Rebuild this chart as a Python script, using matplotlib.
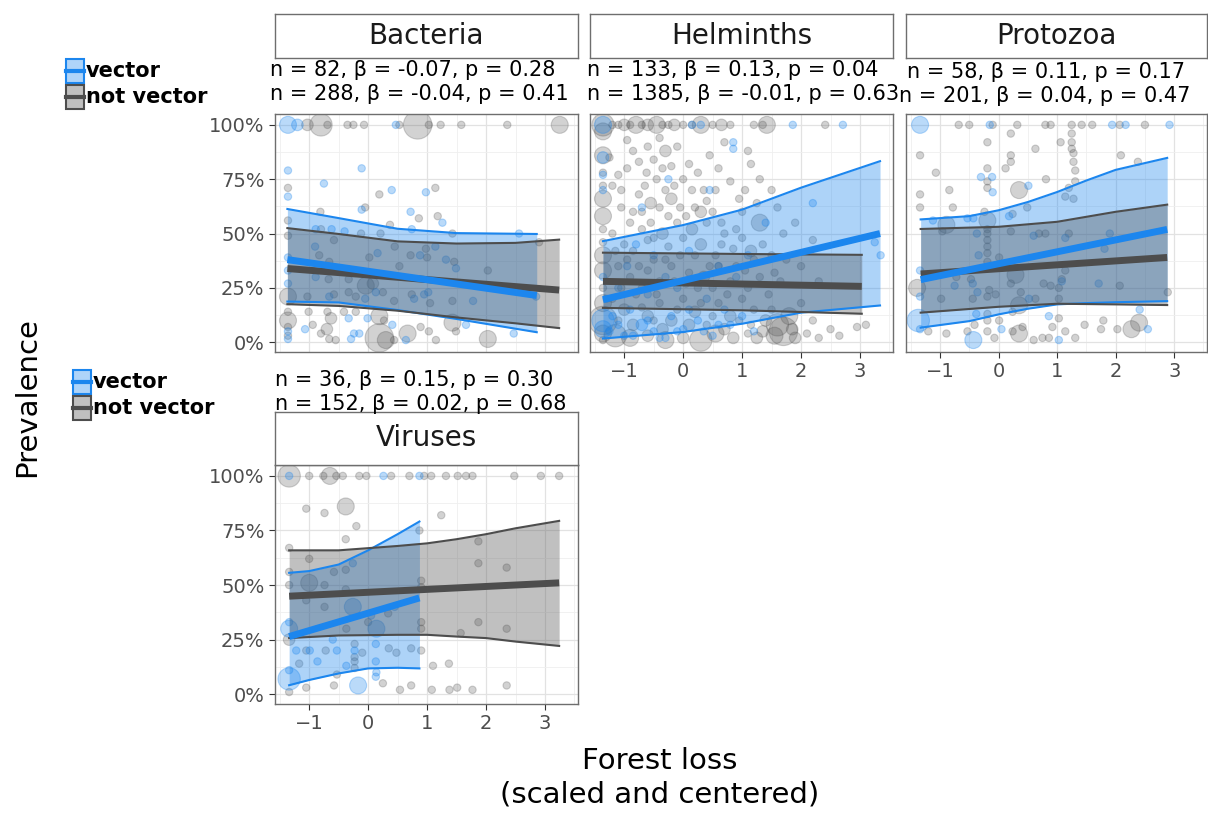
import matplotlib
matplotlib.use("Agg")
import matplotlib.pyplot as plt
from matplotlib.patches import Rectangle
from matplotlib.lines import Line2D

plt.rcParams["font.family"] = ["DejaVu Sans"]

# ---- Data ----
PANELS = ["Bacteria", "Helminths", "Protozoa", "Viruses"]
Y_TICKS = [0, 0.25, 0.5, 0.75, 1.0]
Y_TICK_LABELS = ["0%", "25%", "50%", "75%", "100%"]
X_TICKS = [-1, 0, 1, 2, 3]
X_TICK_LABELS = ["\u22121", "0", "1", "2", "3"]

STATS_VEC = ["n = 82, \u03b2 = -0.07, p = 0.28", "n = 133, \u03b2 = 0.13, p = 0.04",
             "n = 58, \u03b2 = 0.11, p = 0.17", "n = 36, \u03b2 = 0.15, p = 0.30"]
STATS_NOT = ["n = 288, \u03b2 = -0.04, p = 0.41", "n = 1385, \u03b2 = -0.01, p = 0.63",
             "n = 201, \u03b2 = 0.04, p = 0.47", "n = 152, \u03b2 = 0.02, p = 0.68"]

# points: (forest loss, prevalence, weight class)
BACT_VEC = [(-1.36, 1.0, 3), (-1.20, 1.0, 2), (0.47, 1.0, 1), (-1.36, 0.79, 1), (-0.11, 0.80, 1),
            (-0.75, 0.73, 1), (-1.36, 0.67, 1), (0.40, 0.70, 1), (0.98, 0.69, 1), (-0.11, 0.61, 1),
            (0.72, 0.60, 1), (1.26, 0.55, 1), (-0.89, 0.52, 1), (-0.62, 0.52, 1), (-0.40, 0.51, 1),
            (0.74, 0.52, 1), (1.14, 0.44, 1), (2.56, 0.50, 1), (-0.90, 0.44, 1), (0.16, 0.41, 1),
            (0.88, 0.40, 1), (1.32, 0.38, 1), (1.49, 0.34, 1), (-0.89, 0.30, 1), (0.13, 0.23, 1),
            (-0.66, 0.21, 1), (-0.05, 0.20, 1), (0.78, 0.20, 1), (0.95, 0.22, 1), (1.02, 0.23, 1),
            (1.78, 0.19, 1), (2.85, 0.21, 1), (-1.36, 0.27, 1), (-1.36, 0.33, 1), (-1.36, 0.39, 1),
            (-1.36, 0.05, 1), (-1.36, 0.015, 1), (-0.33, 0.11, 1), (-0.01, 0.11, 1), (0.41, 0.08, 1),
            (1.66, 0.08, 1), (2.47, 0.04, 1), (-1.07, 0.06, 1), (-0.29, 0.015, 1), (-0.15, 0.04, 1),
            (0.64, 0.01, 1), (-0.24, 0.04, 1)]
BACT_NOT = [(-1.03, 1.0, 2), (-0.80, 1.0, 4), (-0.69, 1.0, 1), (-0.35, 1.0, 1), (-0.25, 1.0, 1),
            (-0.07, 1.0, 1), (0.53, 1.0, 1), (0.84, 1.0, 5), (1.03, 1.0, 1), (1.23, 1.0, 1),
            (1.58, 1.0, 1), (2.36, 1.0, 1), (3.25, 1.0, 3), (-1.36, 0.71, 1), (0.19, 0.68, 1),
            (1.14, 0.71, 1), (-0.81, 0.60, 1), (-0.05, 0.62, 1), (0.86, 0.57, 1), (1.18, 0.58, 1),
            (0.37, 0.54, 1), (-1.36, 0.56, 1), (-1.36, 0.49, 1), (-0.80, 0.52, 1), (-0.58, 0.47, 1),
            (-0.12, 0.50, 1), (0.21, 0.50, 1), (1.43, 0.50, 1), (2.90, 0.46, 1), (0.45, 0.44, 1),
            (0.98, 0.43, 1), (-0.83, 0.40, 1), (-0.66, 0.37, 1), (0.02, 0.39, 1), (0.72, 0.40, 1),
            (1.00, 0.39, 1), (0.53, 0.35, 1), (1.46, 0.37, 1), (2.03, 0.33, 1), (-0.67, 0.29, 1),
            (-0.33, 0.29, 1), (-0.04, 0.26, 3), (0.08, 0.27, 2), (-1.36, 0.21, 3), (-1.03, 0.21, 1),
            (-0.58, 0.22, 1), (-0.33, 0.23, 1), (-0.21, 0.21, 1), (0.25, 0.23, 1), (0.44, 0.19, 1),
            (0.74, 0.22, 1), (1.05, 0.18, 1), (1.43, 0.19, 1), (-1.36, 0.14, 1), (-1.36, 0.10, 3),
            (-1.01, 0.14, 1), (-0.69, 0.14, 1), (-0.63, 0.11, 2), (-0.41, 0.14, 1), (-0.21, 0.14, 1),
            (0.19, 0.12, 3), (0.27, 0.10, 1), (0.89, 0.07, 1), (1.43, 0.09, 3), (1.49, 0.05, 1),
            (2.03, 0.015, 3), (-0.94, 0.08, 1), (-0.80, 0.04, 1), (-0.66, 0.015, 1), (-0.55, 0.01, 1),
            (0.19, 0.02, 5), (0.44, 0.01, 1), (0.67, 0.04, 3), (1.15, 0.01, 1), (1.03, 0.05, 1),
            (-1.36, 0.03, 1), (-1.36, 0.07, 1), (-0.70, 0.06, 2), (0.30, 0.01, 3)]

HELM_VEC = [(-1.36, 1.0, 3), (0.15, 1.0, 1), (0.30, 1.0, 1), (1.86, 1.0, 1), (2.71, 1.0, 1),
            (-1.36, 0.85, 2), (-1.36, 0.77, 1), (-1.36, 0.70, 1), (-1.36, 0.30, 1), (-1.36, 0.10, 4),
            (-1.36, 0.06, 3), (0.85, 0.92, 1), (0.85, 0.89, 1), (-0.25, 0.75, 1), (2.20, 0.64, 1),
            (3.25, 0.46, 1), (3.35, 0.40, 1), (-0.80, 0.45, 1), (-0.50, 0.40, 1), (0.10, 0.42, 1),
            (0.60, 0.35, 1), (-1.10, 0.25, 1), (-0.90, 0.15, 1), (-0.70, 0.08, 2), (-0.50, 0.05, 1),
            (-0.20, 0.12, 1), (0.00, 0.06, 1), (0.25, 0.10, 1), (0.50, 0.03, 1), (0.80, 0.08, 1),
            (1.00, 0.12, 1), (-1.20, 0.12, 1), (0.40, 0.20, 1), (-0.10, 0.25, 1), (1.40, 0.55, 1),
            (-1.00, 0.03, 1), (-0.30, 0.02, 1), (0.70, 0.15, 1), (1.20, 0.05, 1), (-0.60, 0.22, 1),
            (-1.25, 0.05, 1), (-1.10, 0.08, 1), (-0.85, 0.03, 1), (-0.60, 0.10, 1), (-0.40, 0.02, 1),
            (-0.10, 0.05, 1), (0.10, 0.15, 1), (0.35, 0.05, 1), (0.60, 0.08, 1), (-1.30, 0.20, 1),
            (-0.95, 0.35, 1), (-0.30, 0.30, 1), (0.20, 0.28, 1), (0.90, 0.30, 1), (-0.70, 0.62, 1),
            (0.45, 0.70, 1), (1.10, 0.40, 1)]
HELM_NOT = [(-1.36, 1.0, 4), (-1.20, 1.0, 1), (-1.10, 1.0, 1), (-1.00, 1.0, 2), (-0.90, 1.0, 1),
            (-0.80, 1.0, 3), (-0.70, 1.0, 1), (-0.60, 1.0, 2), (-0.45, 1.0, 3), (-0.35, 1.0, 1),
            (-0.25, 1.0, 1), (-0.15, 1.0, 2), (0.00, 1.0, 1), (0.15, 1.0, 1), (0.30, 1.0, 3),
            (0.50, 1.0, 1), (0.65, 1.0, 2), (0.80, 1.0, 1), (1.20, 1.0, 1), (1.35, 1.0, 1),
            (1.42, 1.0, 3), (2.41, 1.0, 1),
            (-1.36, 0.97, 3), (-1.36, 0.86, 3), (-1.36, 0.78, 1), (-1.36, 0.72, 1), (-1.36, 0.66, 3),
            (-1.36, 0.58, 3), (-1.36, 0.52, 1), (-1.36, 0.46, 1), (-1.36, 0.40, 3), (-1.36, 0.33, 3),
            (-1.36, 0.25, 1), (-1.36, 0.18, 3), (-1.36, 0.10, 5), (-1.36, 0.04, 3), (-1.36, 0.01, 1),
            (-1.10, 0.77, 1), (-1.20, 0.72, 1), (-0.95, 0.93, 1), (-0.85, 0.88, 1), (-0.75, 0.83, 1),
            (-0.60, 0.90, 1), (-0.50, 0.84, 1), (-0.40, 0.94, 1), (-0.30, 0.88, 2), (-0.20, 0.81, 1),
            (-0.10, 0.90, 1), (-0.75, 0.68, 1), (-0.65, 0.72, 1), (-0.55, 0.64, 2), (-0.45, 0.75, 1),
            (-0.30, 0.70, 1), (-0.20, 0.66, 2), (0.00, 0.75, 1), (0.10, 0.82, 1), (0.25, 0.78, 1),
            (0.35, 0.70, 1), (0.45, 0.86, 1), (0.60, 0.80, 1), (0.70, 0.92, 1), (0.80, 0.74, 1),
            (0.95, 0.66, 1), (1.10, 0.88, 1), (1.15, 0.82, 1), (1.30, 0.75, 1), (-1.05, 0.62, 1),
            (-0.90, 0.55, 1), (0.20, 0.62, 1), (0.50, 0.60, 1), (1.00, 0.60, 1), (1.25, 0.64, 1),
            (1.50, 0.70, 1), (1.60, 0.62, 1), (1.30, 0.55, 3), (1.90, 0.55, 1), (2.20, 0.47, 1),
            (1.70, 0.50, 1),
            (-1.20, 0.50, 1), (-1.00, 0.45, 1), (-0.85, 0.42, 1), (-0.70, 0.52, 1), (-0.60, 0.47, 1),
            (-0.50, 0.38, 1), (-0.35, 0.50, 2), (-0.25, 0.44, 1), (-0.10, 0.55, 1), (0.00, 0.48, 1),
            (0.15, 0.52, 2), (0.30, 0.45, 2), (0.40, 0.55, 1), (0.55, 0.40, 1), (0.70, 0.50, 1),
            (0.85, 0.43, 1), (1.00, 0.48, 1), (1.15, 0.42, 2), (1.35, 0.45, 1), (1.50, 0.40, 1),
            (1.75, 0.38, 1), (-1.10, 0.35, 1), (-0.90, 0.30, 1), (-0.60, 0.33, 1), (-0.40, 0.28, 1),
            (-0.20, 0.35, 1), (0.10, 0.32, 1), (0.35, 0.30, 2), (0.60, 0.35, 1), (0.80, 0.28, 1),
            (1.05, 0.33, 1), (1.30, 0.30, 1), (1.55, 0.32, 1), (2.00, 0.35, 1), (2.30, 0.28, 1),
            (-1.20, 0.20, 1), (-1.00, 0.15, 2), (-0.80, 0.22, 1), (-0.60, 0.12, 2), (-0.40, 0.18, 1),
            (-0.20, 0.10, 2), (0.00, 0.20, 1), (0.20, 0.14, 2), (0.40, 0.08, 1), (0.60, 0.18, 1),
            (0.80, 0.12, 2), (1.00, 0.20, 1), (1.20, 0.15, 1), (1.40, 0.10, 2), (1.60, 0.08, 4),
            (1.70, 0.05, 5), (1.80, 0.12, 3), (1.55, 0.03, 3), (1.90, 0.02, 2), (2.10, 0.04, 1),
            (2.50, 0.06, 1), (2.95, 0.07, 1), (3.10, 0.08, 1), (-1.15, 0.03, 4), (-0.90, 0.02, 3),
            (-0.60, 0.03, 2), (-0.30, 0.01, 3), (0.00, 0.02, 2), (0.30, 0.01, 4), (0.55, 0.04, 3),
            (0.85, 0.02, 2), (1.10, 0.04, 1), (1.25, 0.02, 2), (2.00, 0.18, 1), (2.20, 0.10, 1),
            (-1.25, 0.85, 1), (-1.05, 0.70, 1), (-0.95, 0.80, 1), (-0.85, 0.60, 1), (-0.70, 0.60, 1),
            (-0.62, 0.78, 1), (-0.55, 0.55, 1), (-0.40, 0.62, 1), (-0.35, 0.80, 1), (-0.25, 0.58, 1),
            (-0.15, 0.72, 1), (-0.05, 0.62, 1), (0.05, 0.58, 1), (0.15, 0.70, 1), (0.30, 0.60, 2),
            (0.40, 0.65, 1), (0.55, 0.70, 1), (0.65, 0.55, 1), (0.90, 0.52, 1), (1.05, 0.70, 1),
            (-1.15, 0.42, 1), (-1.05, 0.25, 1), (-0.95, 0.38, 1), (-0.75, 0.35, 1), (-0.70, 0.25, 1),
            (-0.50, 0.48, 1), (-0.45, 0.22, 1), (-0.30, 0.38, 1), (-0.15, 0.28, 1), (-0.05, 0.40, 1),
            (0.05, 0.27, 1), (0.20, 0.40, 1), (0.25, 0.25, 1), (0.45, 0.35, 1), (0.50, 0.25, 1),
            (0.65, 0.45, 1), (0.75, 0.22, 1), (0.90, 0.35, 1), (1.10, 0.25, 1), (1.20, 0.38, 1),
            (1.45, 0.22, 1), (1.65, 0.28, 1), (-1.10, 0.10, 1), (-0.85, 0.08, 2), (-0.70, 0.16, 1),
            (-0.50, 0.10, 1), (-0.35, 0.06, 2), (-0.10, 0.15, 1), (0.10, 0.08, 2), (0.30, 0.18, 1),
            (0.50, 0.12, 1), (0.70, 0.06, 2), (0.95, 0.10, 1), (1.15, 0.08, 1), (1.35, 0.05, 2),
            (1.50, 0.15, 1), (1.85, 0.06, 2), (2.30, 0.02, 1), (2.65, 0.03, 1)]

PROT_VEC = [(-1.34, 1.0, 3), (-0.15, 1.0, 1), (1.94, 1.0, 1), (2.17, 1.0, 1), (2.92, 1.0, 1),
            (-0.30, 0.76, 1), (-0.11, 0.76, 1), (-0.10, 0.69, 1), (0.51, 0.72, 1), (0.18, 0.58, 1),
            (-1.12, 0.56, 1), (-0.53, 0.57, 1), (-0.43, 0.57, 1), (-0.37, 0.50, 1), (0.60, 0.49, 1),
            (1.14, 0.48, 1), (1.90, 0.50, 1), (1.81, 0.43, 1), (-0.34, 0.40, 1), (-1.34, 0.33, 1),
            (-0.75, 0.26, 1), (-0.44, 0.27, 1), (-0.36, 0.23, 1), (1.08, 0.28, 1), (1.71, 0.27, 1),
            (-1.34, 0.21, 1), (0.52, 0.20, 1), (-0.38, 0.13, 1), (0.86, 0.12, 1), (-1.37, 0.10, 4),
            (-1.34, 0.06, 1), (-0.43, 0.01, 3), (1.03, 0.01, 1), (2.55, 0.06, 1), (2.41, 0.15, 1),
            (0.05, 0.06, 1)]
PROT_NOT = [(-0.68, 1.0, 1), (-0.50, 1.0, 1), (-0.10, 1.0, 1), (0.32, 1.0, 1), (0.80, 1.0, 1),
            (0.89, 1.0, 1), (1.25, 1.0, 1), (1.42, 1.0, 1), (1.60, 1.0, 1), (2.07, 1.0, 1),
            (2.50, 1.0, 1), (0.21, 0.96, 1), (1.25, 0.96, 1), (1.25, 0.92, 1), (1.25, 0.89, 1),
            (1.28, 0.87, 1), (-1.34, 0.86, 1), (-0.19, 0.92, 1), (0.63, 0.89, 1), (1.06, 0.92, 1),
            (0.21, 0.86, 1), (0.21, 0.83, 1), (2.09, 0.86, 1), (2.38, 0.83, 1), (1.28, 0.83, 1),
            (-1.07, 0.78, 1), (-0.19, 0.80, 1), (0.12, 0.80, 1), (1.31, 0.79, 1), (-0.19, 0.74, 1),
            (-0.19, 0.71, 1), (-0.84, 0.70, 1), (0.81, 0.75, 1), (1.31, 0.74, 1), (1.20, 0.71, 1),
            (0.35, 0.70, 3), (1.14, 0.67, 1), (1.28, 0.66, 1), (-1.34, 0.68, 1), (-1.34, 0.62, 1),
            (-0.78, 0.62, 1), (0.49, 0.62, 1), (0.24, 0.59, 1), (-0.89, 0.54, 3), (-0.24, 0.60, 1),
            (-0.19, 0.56, 3), (-0.19, 0.52, 1), (-0.19, 0.50, 1), (-0.19, 0.47, 1), (-0.19, 0.44, 1),
            (-0.19, 0.41, 1), (0.21, 0.51, 1), (0.69, 0.50, 1), (0.80, 0.50, 1), (1.20, 0.50, 1),
            (-0.96, 0.51, 1), (0.01, 0.39, 1), (-0.19, 0.37, 1), (0.29, 0.31, 3), (1.14, 0.33, 1),
            (1.08, 0.29, 1), (-1.39, 0.25, 3), (-0.72, 0.30, 1), (-0.47, 0.29, 1), (-0.16, 0.24, 1),
            (0.21, 0.27, 1), (0.38, 0.23, 1), (0.77, 0.27, 1), (0.89, 0.26, 1), (1.03, 0.25, 1),
            (2.07, 0.26, 1), (2.89, 0.23, 1), (-0.98, 0.20, 1), (-0.44, 0.20, 1), (-0.19, 0.21, 1),
            (-0.05, 0.22, 1), (0.63, 0.20, 1), (1.03, 0.20, 1), (0.35, 0.17, 3), (0.24, 0.14, 1),
            (-0.19, 0.13, 1), (0.01, 0.10, 1), (-0.19, 0.10, 1), (-0.41, 0.08, 1), (1.03, 0.11, 1),
            (-1.20, 0.05, 1), (-0.89, 0.04, 1), (-0.53, 0.05, 1), (-0.19, 0.05, 1), (-0.07, 0.02, 1),
            (0.24, 0.05, 1), (0.35, 0.04, 3), (0.41, 0.07, 1), (0.60, 0.01, 1), (0.75, 0.02, 1),
            (0.86, 0.02, 1), (0.92, 0.07, 1), (1.14, 0.05, 1), (1.31, 0.02, 1), (1.47, 0.08, 1),
            (1.79, 0.10, 1), (1.75, 0.06, 1), (2.03, 0.06, 1), (2.27, 0.06, 3), (2.40, 0.09, 3)]

VIR_VEC = [(-1.34, 1.0, 1), (0.26, 1.0, 1), (0.87, 1.0, 1), (-0.26, 0.60, 1), (-0.26, 0.40, 3),
           (0.14, 0.30, 3), (-1.34, 0.30, 3), (-1.34, 0.33, 1), (-1.22, 0.20, 1), (-0.99, 0.20, 1),
           (-0.86, 0.15, 1), (-0.53, 0.20, 1), (-0.23, 0.20, 1), (0.13, 0.23, 1), (0.13, 0.15, 1),
           (-0.37, 0.13, 1), (0.14, 0.10, 1), (0.13, 0.08, 1), (-1.34, 0.07, 4), (-1.34, 0.11, 1),
           (-0.17, 0.04, 3), (0.45, 0.40, 1), (-0.60, 0.25, 1), (0.05, 0.36, 1)]
VIR_NOT = [(-1.34, 1.0, 4), (-1.00, 1.0, 1), (-0.76, 1.0, 1), (-0.65, 1.0, 3), (-0.54, 1.0, 1),
           (-0.43, 1.0, 1), (-0.15, 1.0, 1), (-0.03, 1.0, 1), (0.39, 1.0, 1), (0.70, 1.0, 1),
           (0.95, 1.0, 1), (1.07, 1.0, 1), (1.32, 1.0, 1), (1.52, 1.0, 1), (1.66, 1.0, 1),
           (1.77, 1.0, 1), (2.48, 1.0, 1), (2.93, 1.0, 1), (3.24, 1.0, 1), (-1.05, 0.85, 1),
           (-0.74, 0.83, 1), (-0.38, 0.86, 3), (-0.20, 0.77, 1), (-0.38, 0.71, 1), (1.24, 0.82, 1),
           (0.87, 0.75, 1), (1.87, 0.70, 1), (1.87, 0.60, 1), (2.35, 0.58, 1), (-1.00, 0.62, 1),
           (-0.58, 0.56, 1), (-0.38, 0.57, 1), (-1.34, 0.67, 1), (-1.34, 0.56, 1), (-1.34, 0.50, 1),
           (-1.00, 0.51, 3), (-0.74, 0.50, 1), (-0.38, 0.48, 1), (-1.05, 0.43, 1), (-0.74, 0.40, 1),
           (0.34, 0.37, 1), (0.00, 0.33, 1), (-0.37, 0.30, 1), (0.90, 0.52, 1), (0.90, 0.49, 1),
           (0.90, 0.33, 1), (0.90, 0.30, 1), (1.57, 0.28, 1), (1.87, 0.33, 1), (2.35, 0.30, 1),
           (-1.34, 0.25, 2), (-1.05, 0.20, 1), (-0.72, 0.20, 1), (-1.17, 0.14, 1), (-0.23, 0.23, 1),
           (-0.23, 0.17, 1), (-0.23, 0.15, 1), (-0.23, 0.12, 1), (-0.10, 0.19, 1), (0.35, 0.21, 1),
           (0.48, 0.19, 1), (0.73, 0.21, 1), (0.90, 0.20, 1), (-0.53, 0.09, 1), (1.10, 0.13, 1),
           (1.37, 0.14, 1), (-1.34, 0.01, 1), (-1.05, 0.03, 1), (-0.58, 0.04, 1), (0.25, 0.05, 1),
           (0.54, 0.02, 1), (0.73, 0.04, 1), (1.08, 0.02, 1), (1.38, 0.02, 1), (1.51, 0.03, 1),
           (1.77, 0.02, 1), (2.35, 0.04, 1)]

# fitted lines: start / end
BACT_VEC_FIT = ([-1.37, 2.86], [0.38, 0.215])
BACT_NOT_FIT = ([-1.37, 3.24], [0.339, 0.24])
HELM_VEC_FIT = ([-1.36, 3.34], [0.196, 0.50])
HELM_NOT_FIT = ([-1.36, 3.03], [0.280, 0.257])
PROT_VEC_FIT = ([-1.33, 2.88], [0.288, 0.519])
PROT_NOT_FIT = ([-1.33, 2.88], [0.314, 0.39])
VIR_VEC_FIT = ([-1.34, 0.87], [0.264, 0.441])
VIR_NOT_FIT = ([-1.34, 3.24], [0.449, 0.51])

# confidence bands: x, lower, upper
BACT_VEC_BAND = ([-1.37, -0.5, 0.5, 1.5, 2.86],
                 [0.187, 0.183, 0.148, 0.107, 0.046],
                 [0.613, 0.571, 0.522, 0.502, 0.498])
BACT_NOT_BAND = ([-1.37, -0.5, 0.5, 1.5, 2.5, 3.24],
                 [0.175, 0.167, 0.145, 0.114, 0.087, 0.065],
                 [0.525, 0.498, 0.464, 0.454, 0.457, 0.472])
HELM_VEC_BAND = ([-1.36, 0, 1, 2, 3.34],
                 [0.017, 0.047, 0.085, 0.136, 0.169],
                 [0.465, 0.539, 0.610, 0.711, 0.833])
HELM_NOT_BAND = ([-1.36, 1, 3.03],
                 [0.158, 0.147, 0.131],
                 [0.412, 0.406, 0.402])
PROT_VEC_BAND = ([-1.33, -0.5, 0, 0.5, 1, 1.5, 2, 2.88],
                 [0.067, 0.097, 0.128, 0.154, 0.174, 0.180, 0.184, 0.189],
                 [0.565, 0.580, 0.607, 0.645, 0.691, 0.744, 0.793, 0.848])
PROT_NOT_BAND = ([-1.33, 0, 1, 2, 2.88],
                 [0.136, 0.163, 0.177, 0.174, 0.171],
                 [0.521, 0.531, 0.554, 0.600, 0.633])
VIR_VEC_BAND = ([-1.34, -1, -0.5, 0, 0.5, 0.87],
                [0.041, 0.065, 0.095, 0.118, 0.121, 0.118],
                [0.556, 0.564, 0.594, 0.659, 0.733, 0.791])
VIR_NOT_BAND = ([-1.34, -0.5, 0.5, 1, 1.5, 2, 2.5, 3.24],
                [0.257, 0.269, 0.272, 0.272, 0.264, 0.257, 0.241, 0.221],
                [0.659, 0.659, 0.679, 0.691, 0.710, 0.733, 0.760, 0.794])

# ---- Style ----
W, H = 1208, 815
BLUE = "#1C86EE"
GREY = "#4D4D4D"
SIZE = {1: 28, 2: 70, 3: 150, 4: 260, 5: 420}

fig = plt.figure(figsize=(W / 100, H / 100), dpi=100)


def fx(x):
    return x / W


def fy(y):
    return 1 - y / H


def add_box(l, t, r, b):
    return fig.add_axes([fx(l), fy(b), (r - l) / W, (b - t) / H])


def draw_panel(ax, vec, nvec, vfit, nfit, vband, nband, show_x, show_y):
    for pts, col, a in [(nvec, GREY, 0.25), (vec, BLUE, 0.3)]:
        ax.scatter([p[0] for p in pts], [p[1] for p in pts], s=[SIZE[p[2]] for p in pts],
                   color=col, alpha=a, linewidths=0.8, zorder=2)
    for band, col, a in [(vband, BLUE, 0.36), (nband, GREY, 0.35)]:
        x, lo, hi = band
        ax.fill_between(x, lo, hi, color=col, alpha=a, lw=0, zorder=3)
        ax.plot(x, lo, color=col, lw=1.5, zorder=4)
        ax.plot(x, hi, color=col, lw=1.5, zorder=4)
    ax.plot(nfit[0], nfit[1], color=GREY, lw=5, solid_capstyle="butt", zorder=5)
    ax.plot(vfit[0], vfit[1], color=BLUE, lw=5, solid_capstyle="butt", zorder=6)

    ax.set_xlim(-1.58, 3.56)
    ax.set_ylim(-0.045, 1.05)
    ax.set_xticks(X_TICKS)
    ax.set_xticks([-1.5, -0.5, 0.5, 1.5, 2.5, 3.5], minor=True)
    ax.set_yticks(Y_TICKS)
    ax.set_yticks([0.125, 0.375, 0.625, 0.875], minor=True)
    ax.grid(which="major", color="#E2E2E2", lw=0.9)
    ax.grid(which="minor", color="#EFEFEF", lw=0.6)
    ax.set_axisbelow(True)
    for s in ax.spines.values():
        s.set_color("#6E6E6E")
        s.set_linewidth(1.0)
    ax.tick_params(which="minor", length=0)
    ax.tick_params(which="major", length=4.5, color="#333333", labelcolor="#4D4D4D",
                   labelsize=14, pad=3)
    if show_x:
        ax.set_xticklabels(X_TICK_LABELS)
    else:
        ax.tick_params(axis="x", length=0, labelbottom=False)
    if show_y:
        ax.set_yticklabels(Y_TICK_LABELS)
    else:
        ax.tick_params(axis="y", length=0, labelleft=False)


def strip(l, t, r, b, label):
    sax = add_box(l, t, r, b)
    sax.set_xticks([])
    sax.set_yticks([])
    for s in sax.spines.values():
        s.set_color("#6E6E6E")
        s.set_linewidth(1.0)
    sax.text(0.5, 0.5, label, ha="center", va="center", fontsize=20, color="#1A1A1A",
             transform=sax.transAxes)


def legend(x, y):
    items = [("vector", BLUE), ("not vector", GREY)]
    for i, (lab, col) in enumerate(items):
        top = y + i * 26
        fig.add_artist(Rectangle((fx(x), fy(top + 24)), 18 / W, 24 / H, transform=fig.transFigure,
                                 facecolor=col, alpha=0.35, edgecolor="none"))
        fig.add_artist(Rectangle((fx(x), fy(top + 24)), 18 / W, 24 / H, transform=fig.transFigure,
                                 facecolor="none", edgecolor=col, lw=1.5))
        fig.add_artist(Line2D([fx(x), fx(x + 18)], [fy(top + 12)] * 2, color=col, lw=3,
                              transform=fig.transFigure))
        fig.text(fx(x + 20), fy(top + 12), lab, ha="left", va="center", fontsize=15,
                 fontweight="bold", color="black")


# ---- Panels ----
layout = [(275, 114, 578, 352), (590, 114, 893, 352), (906, 114, 1207, 352), (275, 465, 578, 704)]
vec_pts = [BACT_VEC, HELM_VEC, PROT_VEC, VIR_VEC]
not_pts = [BACT_NOT, HELM_NOT, PROT_NOT, VIR_NOT]
vec_fit = [BACT_VEC_FIT, HELM_VEC_FIT, PROT_VEC_FIT, VIR_VEC_FIT]
not_fit = [BACT_NOT_FIT, HELM_NOT_FIT, PROT_NOT_FIT, VIR_NOT_FIT]
vec_band = [BACT_VEC_BAND, HELM_VEC_BAND, PROT_VEC_BAND, VIR_VEC_BAND]
not_band = [BACT_NOT_BAND, HELM_NOT_BAND, PROT_NOT_BAND, VIR_NOT_BAND]
show_x = [False, True, True, True]
show_y = [True, False, False, True]

for i, name in enumerate(PANELS):
    l, t, r, b = layout[i]
    ax = add_box(l, t, r, b)
    draw_panel(ax, vec_pts[i], not_pts[i], vec_fit[i], not_fit[i], vec_band[i], not_band[i],
               show_x[i], show_y[i])

# strips
strip(275, 14, 578, 58, PANELS[0])
strip(590, 14, 893, 58, PANELS[1])
strip(906, 14, 1207, 58, PANELS[2])
strip(275, 412, 578, 465, PANELS[3])

# stats text
stat_pos = [(270, 70, 270, 94), (587, 70, 587, 94), (907, 72, 899, 96), (275, 380, 275, 404)]
for i in range(4):
    x1, y1, x2, y2 = stat_pos[i]
    fig.text(fx(x1), fy(y1), STATS_VEC[i], ha="left", va="center", fontsize=15, color="black")
    fig.text(fx(x2), fy(y2), STATS_NOT[i], ha="left", va="center", fontsize=15, color="black")

legend(66, 59)
legend(73, 370)

fig.text(fx(27), fy(397), "Prevalence", rotation=90, ha="center", va="center", fontsize=21,
         color="black")
fig.text(fx(660), fy(778), "Forest loss\n(scaled and centered)", ha="center", va="center",
         fontsize=21, color="black", linespacing=1.25)

fig.savefig("out.png", dpi=100)
